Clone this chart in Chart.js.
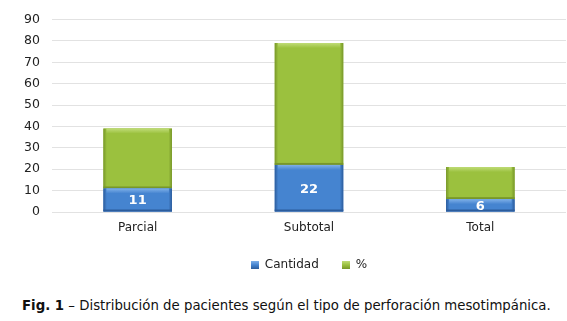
<!DOCTYPE html>
<html>
<head>
<meta charset="utf-8">
<script src="https://cdn.jsdelivr.net/npm/chart.js@4/dist/chart.umd.min.js"></script>
<style>
  html, body { margin: 0; padding: 0; background: #fff; }
  #wrap { position: relative; width: 567px; height: 321px; }
  #box { position: absolute; left: 0; top: 0; width: 567px; height: 285px; }
  #caption { position: absolute; left: 22px; top: 298px; font: 13.3px "DejaVu Sans", sans-serif; color: #111; white-space: nowrap; }
</style>
</head>
<body>
<div id="wrap">
  <div id="box"><canvas id="chart"></canvas></div>
  <div id="caption"><b>Fig. 1</b> &ndash; Distribución de pacientes según el tipo de perforación mesotimpánica.</div>
</div>
<script>
  // data
  var categories = ["Parcial", "Subtotal", "Total"];
  var cantidad = [11, 22, 6];
  var porcentaje = [28, 57, 15];
  var yTicks = [0, 10, 20, 30, 40, 50, 60, 70, 80, 90];

  var palette = {
    blue: { mid: "#4584d0", edge: "#2c5c9c", top: "#7fb0e8" },
    green: { mid: "#9bc13e", edge: "#78972a", top: "#c0dc78" }
  };

  // bevel look on each bar, drawn from the bar element itself
  var bevel = {
    id: "bevel",
    afterDatasetDraw: function(chart, args) {
      var ctx = chart.ctx;
      var meta = args.meta;
      var col = meta.index === 0 ? palette.blue : palette.green;
      meta.data.forEach(function(bar) {
        var p = bar.getProps(["x", "y", "base", "width"], true);
        var l = p.x - p.width / 2, r = p.x + p.width / 2;
        var t = Math.min(p.y, p.base), b = Math.max(p.y, p.base);
        var g = ctx.createLinearGradient(l, 0, r, 0);
        g.addColorStop(0, col.edge);
        g.addColorStop(0.05, col.mid);
        g.addColorStop(0.95, col.mid);
        g.addColorStop(1, col.edge);
        ctx.save();
        ctx.fillStyle = g;
        ctx.fillRect(l, t, r - l, b - t);
        var h = ctx.createLinearGradient(0, t, 0, t + 5);
        h.addColorStop(0, col.top);
        h.addColorStop(1, col.mid);
        ctx.fillStyle = h;
        ctx.fillRect(l + 3, t, r - l - 6, 5);
        ctx.fillStyle = col.edge;
        ctx.fillRect(l, b - 2, r - l, 2);
        ctx.restore();
      });
    }
  };

  var valueLabels = {
    id: "valueLabels",
    afterDatasetsDraw: function(chart) {
      var ctx = chart.ctx;
      var meta = chart.getDatasetMeta(0);
      ctx.save();
      ctx.font = "bold 13px 'DejaVu Sans', sans-serif";
      ctx.fillStyle = "#ffffff";
      ctx.textAlign = "center";
      ctx.textBaseline = "middle";
      meta.data.forEach(function(bar, i) {
        var p = bar.getProps(["x", "y", "base"], true);
        ctx.fillText(String(cantidad[i]), p.x, (p.y + p.base) / 2 + 1);
      });
      ctx.restore();
    }
  };

  function legendBox(col) {
    var c = document.createElement("canvas");
    c.width = 8; c.height = 8;
    var x = c.getContext("2d");
    var g = x.createLinearGradient(0, 0, 0, 8);
    g.addColorStop(0, col.top);
    g.addColorStop(0.5, col.mid);
    g.addColorStop(1, col.edge);
    x.fillStyle = g;
    x.fillRect(0, 0, 8, 8);
    return c;
  }

  new Chart(document.getElementById("chart"), {
    type: "bar",
    data: {
      labels: categories,
      datasets: [
        { label: "Cantidad", data: cantidad, backgroundColor: palette.blue.mid, pointStyle: legendBox(palette.blue) },
        { label: "%", data: porcentaje, backgroundColor: palette.green.mid, pointStyle: legendBox(palette.green) }
      ]
    },
    options: {
      responsive: true,
      maintainAspectRatio: false,
      animation: false,
      events: [],
      layout: { padding: { top: 17, right: 1, left: 0, bottom: 4 } },
      datasets: { bar: { barPercentage: 0.8, categoryPercentage: 0.5 } },
      scales: {
        x: {
          stacked: true,
          grid: { display: false },
          border: { display: false },
          ticks: { color: "#222", font: { family: "DejaVu Sans", size: 12, lineHeight: 1 }, padding: 2 }
        },
        y: {
          stacked: true,
          min: 0, max: 90,
          afterFit: function(s) { s.width = 52; },
          afterBuildTicks: function(s) { s.ticks = yTicks.map(function(v) { return { value: v }; }); },
          grid: { color: "#e2e2e2", lineWidth: 1, drawTicks: false },
          border: { display: false },
          ticks: { color: "#222", font: { family: "DejaVu Sans", size: 12.5 }, padding: 12 }
        }
      },
      plugins: {
        tooltip: { enabled: false },
        legend: {
          position: "bottom",
          fullSize: false,
          labels: {
            usePointStyle: true,
            color: "#222",
            font: { family: "DejaVu Sans", size: 12 },
            padding: 23,
            boxWidth: 8
          }
        }
      }
    },
    plugins: [bevel, valueLabels]
  });
</script>
</body>
</html>
